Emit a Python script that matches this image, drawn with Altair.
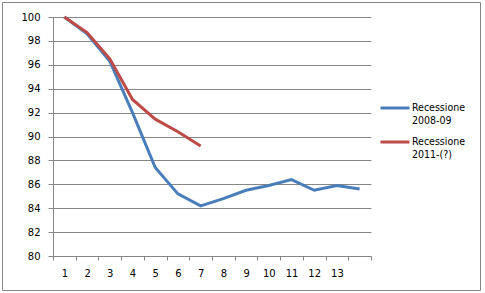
import altair as alt
import pandas as pd

periods = list(range(1, 15))
blue_values = [100, 98.6, 96.3, 92.0, 87.4, 85.2, 84.2, 84.8, 85.5, 85.9, 86.4, 85.5, 85.9, 85.6]
red_values = [100, 98.7, 96.5, 93.1, 91.45, 90.4, 89.2]
series_names = ["Recessione 2008-09", "Recessione 2011-(?)"]
series_colors = ["#4A7EBB", "#BE4B48"]
y_ticks = list(range(80, 101, 2))

rows = []
for p, v in zip(periods, blue_values):
    rows.append({"period": p, "value": v, "series": series_names[0]})
for p, v in zip(periods, red_values):
    rows.append({"period": p, "value": v, "series": series_names[1]})
df = pd.DataFrame(rows)

AXIS_FONT = "DejaVu Sans"
LEGEND_FONT = "DejaVu Sans Condensed, Lato"

lines = alt.Chart(df).mark_line(strokeWidth=3, clip=False).encode(
    x=alt.X(
        "period:O",
        bandPosition=0.5,
        scale=alt.Scale(type="band", domain=periods, paddingInner=0, paddingOuter=0),
        axis=alt.Axis(
            title=None,
            labelAngle=0,
            tickBand="extent",
            labelExpr="datum.value == 14 ? '' : datum.label",
            grid=False,
            domainColor="#868686",
            tickColor="#868686",
            tickSize=4,
            labelPadding=8,
            labelFont=AXIS_FONT,
            labelFontSize=10,
            labelColor="#000000",
        ),
    ),
    y=alt.Y(
        "value:Q",
        scale=alt.Scale(domain=[80, 100], nice=False, zero=False),
        axis=alt.Axis(
            title=None,
            values=y_ticks,
            grid=True,
            gridColor="#868686",
            gridWidth=1,
            domainColor="#868686",
            tickColor="#868686",
            tickSize=5,
            labelPadding=8,
            labelFont=AXIS_FONT,
            labelFontSize=10,
            labelColor="#000000",
        ),
    ),
    color=alt.Color(
        "series:N",
        scale=alt.Scale(domain=series_names, range=series_colors),
        legend=alt.Legend(
            title=None,
            orient="none",
            legendX=326,
            legendY=75,
            padding=0,
            symbolType="stroke",
            symbolStrokeWidth=3,
            symbolSize=841,
            labelExpr="split(datum.label, ' ')",
            labelFont=LEGEND_FONT,
            labelFontSize=10.5,
            labelColor="#000000",
            labelLimit=200,
            rowPadding=0,
            labelOffset=1,
        ),
    ),
)

border = alt.Chart(pd.DataFrame({"k": [0]})).mark_rect(
    fill=None, stroke="#868686", strokeWidth=1, clip=False
).encode(
    x=alt.value(-50.5), x2=alt.value(427.5), y=alt.value(-14.5), y2=alt.value(273.5)
)

chart = alt.layer(lines, border).properties(
    width=318,
    height=239,
    padding={"left": 53, "top": 17, "right": 114, "bottom": 37},
    autosize=alt.AutoSizeParams(type="none"),
    background="#ffffff",
).configure_view(stroke=None)

chart.save("out.html", embed_options={"renderer": "svg", "actions": False})
